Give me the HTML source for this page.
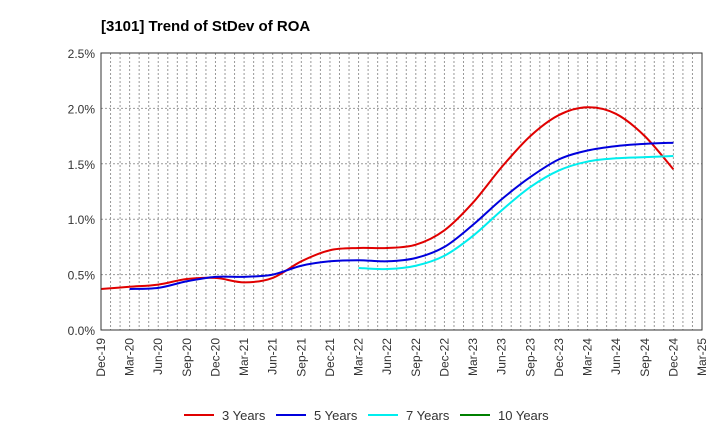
<!DOCTYPE html>
<html><head><meta charset="utf-8"><style>
body{margin:0;background:#fff;font-family:"Liberation Sans",Arial,sans-serif}
</style></head><body>
<svg id="c" width="720" height="440" xmlns="http://www.w3.org/2000/svg">
<text x="101" y="31" font-size="15" font-weight="bold" fill="#000">[3101]  Trend of StDev of ROA</text>
<g id="grid"></g><g id="series"></g><g id="axes"></g><g id="legend"></g>
</svg>
<script>
const xLabels=["Dec-19","Mar-20","Jun-20","Sep-20","Dec-20","Mar-21","Jun-21","Sep-21","Dec-21","Mar-22","Jun-22","Sep-22","Dec-22","Mar-23","Jun-23","Sep-23","Dec-23","Mar-24","Jun-24","Sep-24","Dec-24","Mar-25"];
const yTicks=[0,0.5,1.0,1.5,2.0,2.5];
const s3=[0.37,0.39,0.41,0.46,0.47,0.43,0.47,0.62,0.72,0.74,0.74,0.77,0.90,1.15,1.47,1.75,1.94,2.01,1.95,1.75,1.45];
const s5=[null,0.37,0.38,0.44,0.48,0.48,0.50,0.58,0.62,0.63,0.62,0.65,0.75,0.95,1.18,1.38,1.54,1.62,1.66,1.68,1.69];
const s7=[null,null,null,null,null,null,null,null,null,0.56,0.55,0.58,0.67,0.85,1.08,1.29,1.44,1.52,1.55,1.56,1.57];
const s10=[];
const L=101,R=702,T=53,B=330;
const xs=i=>L+(R-L)*i/(xLabels.length-1);
const ys=v=>B-(B-T)*v/2.5;
const NS="http://www.w3.org/2000/svg";
function mk(t,a,p){const e=document.createElementNS(NS,t);for(const k in a)e.setAttribute(k,a[k]);p.appendChild(e);return e;}
const g=document.getElementById('grid');
for(let m=1;m<63;m++){const x=L+(R-L)*m/63;
const ln=mk('line',{x1:x,x2:x,y1:T,y2:B,stroke:'#999','stroke-dasharray':'2,2','stroke-width':1},g);

}
yTicks.forEach(v=>{if(v>0){const ln=mk('line',{x1:L,x2:R,y1:ys(v),y2:ys(v),stroke:'#999','stroke-dasharray':'2,2'},g);

}
const t=mk('text',{x:L-6,y:ys(v)+5,'text-anchor':'end','font-size':12,fill:'#333'},g);t.textContent=v.toFixed(1)+'%';

});
const ax=document.getElementById('axes');
const fr=mk('rect',{x:L,y:T,width:R-L,height:B-T,fill:'none',stroke:'#333'},ax);


xLabels.forEach((l,i)=>{const x=xs(i);
const t=mk('text',{x:x+4,y:B+8,'text-anchor':'end','font-size':12,fill:'#333',transform:`rotate(-90 ${x+4} ${B+8})`},ax);t.textContent=l;

});
function path(arr){const p=[];arr.forEach((v,i)=>{if(v!=null)p.push([xs(i),ys(v)]);});
if(p.length<2)return '';let d=`M${p[0][0]},${p[0][1]}`;
for(let i=0;i<p.length-1;i++){const p0=p[i-1]||p[i],p1=p[i],p2=p[i+1],p3=p[i+2]||p2;
d+=` C${p1[0]+(p2[0]-p0[0])/6},${p1[1]+(p2[1]-p0[1])/6} ${p2[0]-(p3[0]-p1[0])/6},${p2[1]-(p3[1]-p1[1])/6} ${p2[0]},${p2[1]}`;}return d;}
const sg=document.getElementById('series');
const defs=[[s3,'#e00000','3 Years','line-3-years'],[s5,'#0000dd','5 Years','line-5-years'],[s7,'#00eeee','7 Years','line-7-years'],[s10,'#008000','10 Years','line-10-years']];
defs.forEach(([a,c,n,id])=>{const d=path(a);if(d){const p=mk('path',{d:d,fill:'none',stroke:c,'stroke-width':2},sg);

}});
const lg=document.getElementById('legend');
const lx=[184,276,368,460];
defs.forEach(([a,c,n,id],i)=>{const e=mk('g',{},lg);


mk('line',{x1:lx[i],x2:lx[i]+30,y1:415,y2:415,stroke:c,'stroke-width':2},e);
const t=mk('text',{x:lx[i]+38,y:420,'font-size':13,fill:'#333'},e);t.textContent=n;});
</script>
</body></html>
